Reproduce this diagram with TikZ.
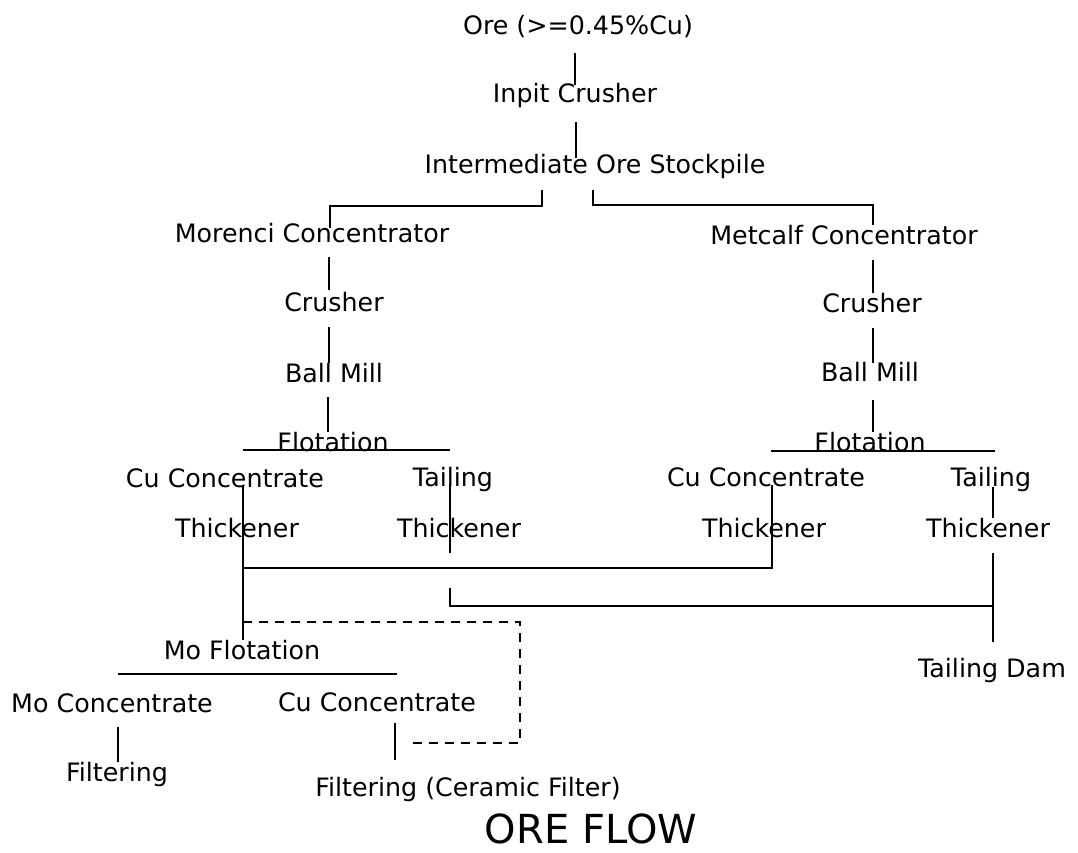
\documentclass[tikz,border=0pt]{standalone}
\usepackage{fontspec}
\setmainfont{DejaVu Sans}
\begin{document}
\begin{tikzpicture}[x=0.75pt,y=-0.75pt,
  txt/.style={inner sep=0pt,anchor=center,text height=14pt,text depth=0pt,font=\fontsize{19}{22}\selectfont},
  ttl/.style={inner sep=0pt,anchor=center,text height=22pt,text depth=0pt,font=\fontsize{30}{34}\selectfont},
  link/.style={line width=2.1pt,line cap=butt},
  dlink/.style={line width=1.8pt,dash pattern=on 7pt off 5pt}]
\useasboundingbox (0,0) rectangle (1078,853);
\fill[white] (0,0) rectangle (1078,853);
% nodes
\node[txt] (ore) at (578,25) {Ore (>=0.45\%Cu)};
\node[txt] (inpit) at (575,93) {Inpit Crusher};
\node[txt] (inter) at (595,164) {Intermediate Ore Stockpile};
\node[txt] (morenci) at (312,233) {Morenci Concentrator};
\node[txt] (metcalf) at (844,235) {Metcalf Concentrator};
\node[txt] (crushL) at (334,302) {Crusher};
\node[txt] (ballL) at (334,373) {Ball Mill};
\node[txt] (flotL) at (333,442) {Flotation};
\node[txt] (cuL) at (225,478) {Cu Concentrate};
\node[txt] (tailL) at (453,477) {Tailing};
\node[txt] (thkCuL) at (237,528) {Thickener};
\node[txt] (thkTL) at (459,528) {Thickener};
\node[txt] (crushR) at (872,303) {Crusher};
\node[txt] (ballR) at (870,372) {Ball Mill};
\node[txt] (flotR) at (870,442) {Flotation};
\node[txt] (cuR) at (766,477) {Cu Concentrate};
\node[txt] (tailR) at (991,477) {Tailing};
\node[txt] (thkCuR) at (764,528) {Thickener};
\node[txt] (thkTR) at (988,528) {Thickener};
\node[txt] (dam) at (992,668) {Tailing Dam};
\node[txt] (moflot) at (242,650) {Mo Flotation};
\node[txt] (moconc) at (112,703) {Mo Concentrate};
\node[txt] (cuconc) at (377,702) {Cu Concentrate};
\node[txt] (filt1) at (117,772) {Filtering};
\node[txt] (filt2) at (468,787) {Filtering (Ceramic Filter)};
\node[ttl] (title) at (591,829) {ORE FLOW};
% coordinates
\coordinate (a1) at (575,53); \coordinate (a2) at (575,85);
\coordinate (b1) at (576,122); \coordinate (b2) at (576,158);
\coordinate (c1) at (542,190); \coordinate (c2) at (542,206);
\coordinate (c3) at (330,206); \coordinate (c4) at (330,228);
\coordinate (d1) at (593,190); \coordinate (d2) at (593,205);
\coordinate (d3) at (873,205); \coordinate (d4) at (873,225);
\coordinate (e1) at (329,257); \coordinate (e2) at (329,290);
\coordinate (e3) at (329,327); \coordinate (e4) at (329,363);
\coordinate (e5) at (328,397); \coordinate (e6) at (328,432);
\coordinate (fl1) at (243,450); \coordinate (fl2) at (450,450);
\coordinate (g1) at (243,485); \coordinate (g2) at (243,568); \coordinate (g3) at (243,640);
\coordinate (t1) at (450,483); \coordinate (t2) at (450,553);
\coordinate (r1) at (873,260); \coordinate (r2) at (873,293);
\coordinate (r3) at (873,328); \coordinate (r4) at (873,363);
\coordinate (r5) at (873,400); \coordinate (r6) at (873,432);
\coordinate (fr1) at (771,451); \coordinate (fr2) at (995,451);
\coordinate (k1) at (772,485); \coordinate (k2) at (772,568);
\coordinate (m1) at (993,487); \coordinate (m2) at (993,518);
\coordinate (m3) at (993,553); \coordinate (m4) at (993,606); \coordinate (m5) at (993,642);
\coordinate (n1) at (450,588); \coordinate (n2) at (450,606);
\coordinate (p1) at (243,622); \coordinate (p2) at (520,622);
\coordinate (p3) at (520,743); \coordinate (p4) at (407,743);
\coordinate (q1) at (118,674); \coordinate (q2) at (397,674);
\coordinate (s1) at (118,727); \coordinate (s2) at (118,762);
\coordinate (u1) at (395,723); \coordinate (u2) at (395,760);
% connectors
\draw[link] (a1) -- (a2);
\draw[link] (b1) -- (b2);
\draw[link] (c1) -- (c2) -- (c3) -- (c4);
\draw[link] (d1) -- (d2) -- (d3) -- (d4);
\draw[link] (e1) -- (e2);
\draw[link] (e3) -- (e4);
\draw[link] (e5) -- (e6);
\draw[link] (fl1) -- (fl2);
\draw[link] (g1) -- (g3);
\draw[link] (t1) -- (t2);
\draw[link] (r1) -- (r2);
\draw[link] (r3) -- (r4);
\draw[link] (r5) -- (r6);
\draw[link] (fr1) -- (fr2);
\draw[link] (g2) -- (k2) -- (k1);
\draw[link] (m1) -- (m2);
\draw[link] (m3) -- (m5);
\draw[link] (n1) -- (n2) -- (m4);
\draw[dlink] (p1) -- (p2) -- (p3) -- (p4);
\draw[link] (q1) -- (q2);
\draw[link] (s1) -- (s2);
\draw[link] (u1) -- (u2);
\end{tikzpicture}
\end{document}
